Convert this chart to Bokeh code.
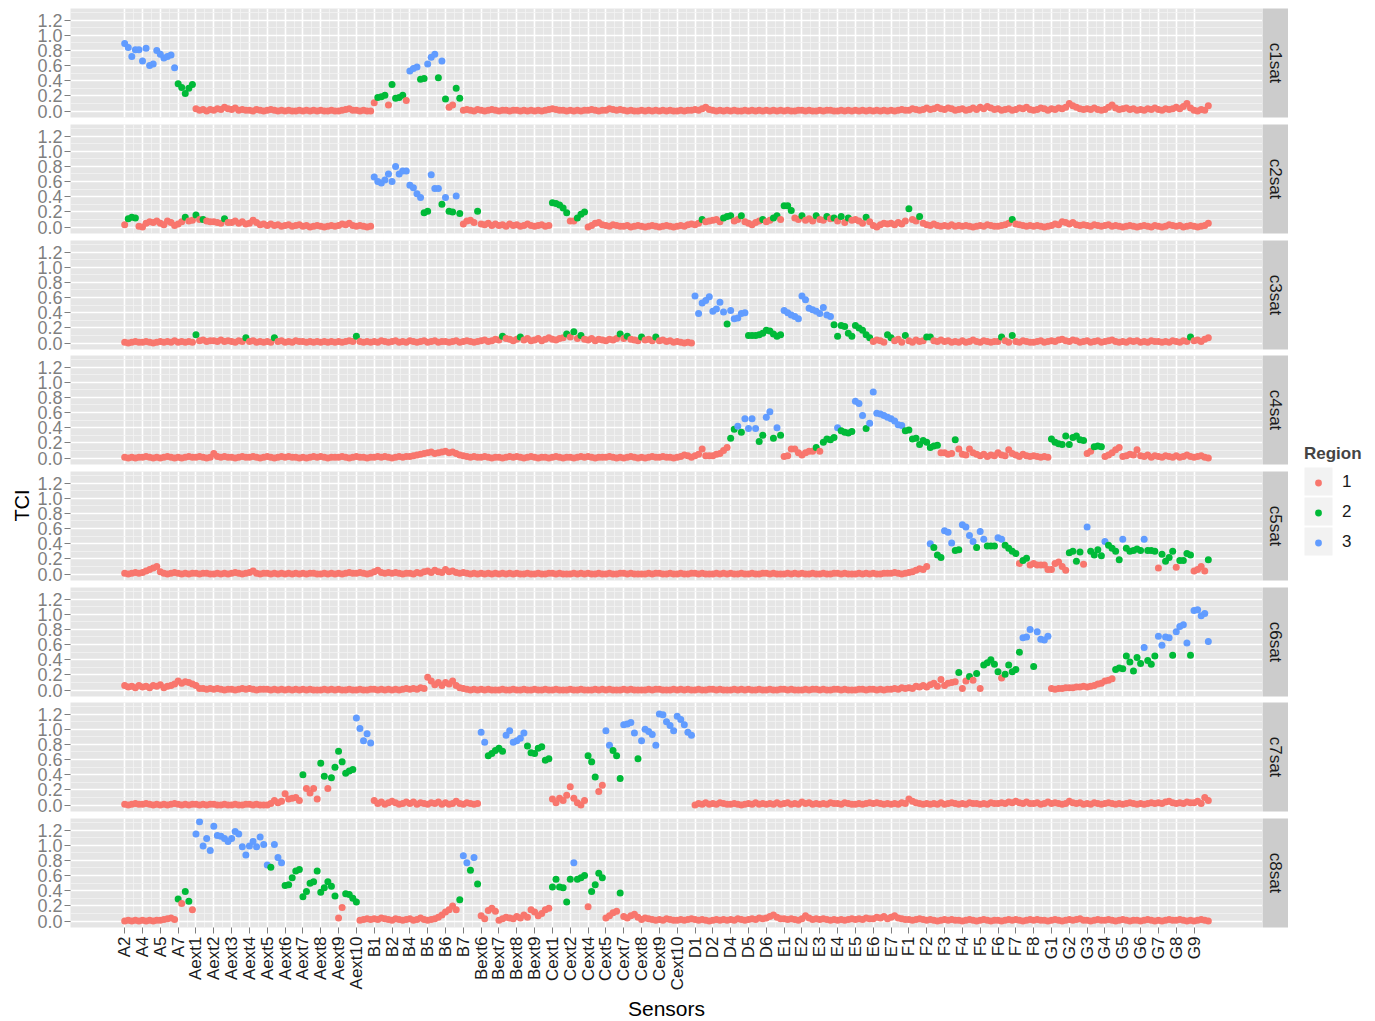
import math
from bokeh.plotting import figure
from bokeh.layouts import row, column
from bokeh.models import (ColumnDataSource, FixedTicker, Range1d, Label, Legend, LegendItem,
                          PrintfTickFormatter, CustomJSTickFormatter, BoxAnnotation)
from bokeh.transform import factor_cmap
from bokeh.embed import file_html
from bokeh.resources import INLINE

# ---------------------------------------------------------------- data
SENSORS = ["A2", "A4", "A5", "A7", "Aext1", "Aext2", "Aext3", "Aext4", "Aext5", "Aext6",
           "Aext7", "Aext8", "Aext9", "Aext10", "B1", "B2", "B4", "B5", "B6", "B7",
           "Bext6", "Bext7", "Bext8", "Bext9", "Cext1", "Cext2", "Cext4", "Cext5", "Cext7", "Cext8",
           "Cext9", "Cext10", "D1", "D2", "D4", "D5", "D6", "E1", "E2", "E3",
           "E4", "E5", "E6", "E7", "F1", "F2", "F3", "F4", "F5", "F6",
           "F7", "F8", "G1", "G2", "G3", "G4", "G5", "G6", "G7", "G8", "G9"]
READINGS_PER_SENSOR = 5
PANELS = ["c1sat", "c2sat", "c3sat", "c4sat", "c5sat", "c6sat", "c7sat", "c8sat"]
REGIONS = ["1", "2", "3"]
REGION_COLORS = ["#F8766D", "#00BA38", "#619CFF"]
Y_TICKS = [0.0, 0.2, 0.4, 0.6, 0.8, 1.0, 1.2]
Y_MINOR = [0.1, 0.3, 0.5, 0.7, 0.9, 1.1, 1.3]

# TCI values in hundredths, 5 readings per sensor, in sensor order
TCI_C1 = [
    89, 84, 72, 81, 81, 66, 83, 60, 62, 80, 75, 70, 72, 74, 57, 36, 31, 23, 30, 35, 3, 1, 2, 0, 2,
    1, 3, 2, 5, 3, 2, 4, 1, 2, 1, 1, 0, 2, 1, 0, 1, 2, 1, 0, 1, 0, 1, 0, 0, 1,
    0, 1, 0, 1, 0, 1, 0, 0, 1, 0, 0, 1, 2, 3, 1, 1, 0, 1, 0, 0, 11, 18, 19, 21, 8,
    35, 17, 18, 21, 14, 53, 56, 58, 42, 43, 62, 71, 75, 44, 66, 16, 5, 8, 30, 17, 1, 2, 1, 0, 2,
    1, 0, 1, 2, 1, 0, 1, 1, 0, 1, 1, 0, 1, 0, 1, 0, 1, 0, 1, 2, 3, 2, 1, 1, 0,
    1, 0, 1, 0, 1, 1, 2, 1, 0, 1, 1, 3, 2, 1, 2, 1, 0, 1, 0, 0, 1, 0, 1, 0, 1,
    0, 1, 0, 1, 0, 0, 1, 0, 1, 1, 2, 1, 3, 5, 2, 1, 0, 1, 0, 1, 0, 1, 0, 0, 1,
    0, 1, 0, 1, 0, 1, 0, 1, 0, 1, 0, 1, 0, 0, 1, 1, 0, 1, 0, 0, 1, 0, 1, 1, 0,
    0, 1, 0, 1, 0, 1, 0, 1, 0, 1, 0, 1, 0, 1, 0, 1, 0, 1, 2, 1, 1, 3, 2, 1, 2,
    4, 2, 3, 5, 3, 2, 4, 3, 1, 2, 3, 1, 2, 4, 2, 5, 3, 6, 4, 2, 3, 1, 2, 3, 1,
    2, 4, 3, 5, 2, 1, 2, 4, 3, 1, 3, 2, 4, 3, 5, 10, 7, 5, 3, 2, 3, 2, 4, 2, 1,
    2, 5, 8, 4, 2, 3, 4, 2, 3, 1, 2, 1, 3, 2, 4, 2, 1, 3, 2, 3, 5, 3, 6, 10, 4,
    1, 0, 2, 1, 7]
TCI_C2 = [
    3, 11, 13, 12, 1, 0, 5, 7, 6, 8, 5, 3, 8, 6, 2, 4, 7, 13, 8, 9, 16, 10, 10, 8, 7,
    7, 6, 5, 11, 6, 6, 8, 5, 7, 4, 5, 9, 6, 3, 4, 2, 4, 2, 3, 1, 2, 3, 1, 2, 3,
    1, 2, 0, 1, 2, 1, 0, 1, 2, 1, 2, 4, 3, 5, 2, 1, 2, 1, 0, 1, 66, 60, 58, 62, 70,
    60, 80, 70, 74, 74, 55, 52, 44, 39, 19, 21, 69, 51, 51, 30, 39, 21, 20, 41, 18, 4, 8, 9, 6, 21,
    4, 3, 5, 2, 4, 2, 3, 1, 4, 2, 3, 1, 2, 4, 2, 1, 2, 3, 1, 2, 32, 31, 29, 25, 19,
    8, 8, 12, 17, 20, 0, 2, 5, 6, 3, 2, 1, 3, 2, 1, 1, 2, 0, 1, 2, 1, 0, 1, 2, 1,
    0, 1, 2, 1, 0, 1, 2, 1, 3, 4, 3, 5, 10, 7, 8, 9, 10, 7, 12, 14, 15, 8, 10, 15, 7,
    5, 3, 6, 8, 10, 7, 9, 12, 15, 10, 28, 28, 22, 12, 10, 15, 9, 11, 8, 15, 10, 9, 14, 11, 12,
    8, 14, 6, 12, 9, 10, 8, 5, 13, 7, 2, 0, 3, 5, 4, 5, 3, 6, 4, 8, 24, 10, 8, 14, 5,
    3, 2, 4, 2, 1, 2, 1, 3, 1, 2, 1, 2, 1, 0, 1, 2, 1, 3, 2, 1, 1, 2, 3, 5, 10,
    4, 3, 2, 1, 2, 1, 2, 1, 0, 1, 2, 4, 3, 7, 6, 4, 6, 3, 2, 3, 2, 1, 3, 2, 1,
    2, 3, 1, 2, 1, 0, 1, 2, 1, 0, 1, 2, 1, 0, 2, 1, 0, 1, 3, 2, 1, 2, 0, 1, 2,
    1, 0, 1, 2, 5]
TCI_C3 = [
    1, 0, 1, 2, 1, 1, 2, 1, 0, 1, 2, 1, 2, 1, 3, 1, 2, 1, 2, 1, 11, 3, 4, 2, 3,
    3, 2, 4, 2, 3, 2, 1, 3, 2, 7, 2, 3, 1, 2, 1, 2, 1, 7, 2, 3, 1, 2, 1, 3, 2,
    2, 1, 2, 1, 2, 1, 2, 1, 2, 1, 2, 1, 2, 3, 2, 9, 2, 1, 2, 1, 2, 1, 3, 2, 1,
    2, 3, 1, 2, 1, 3, 2, 1, 2, 3, 1, 2, 3, 1, 2, 2, 1, 2, 3, 1, 2, 3, 2, 1, 2,
    3, 4, 2, 3, 5, 4, 9, 6, 5, 3, 5, 8, 4, 6, 3, 4, 6, 3, 5, 7, 5, 4, 6, 7, 12,
    8, 15, 6, 10, 5, 4, 6, 3, 5, 4, 3, 5, 4, 6, 12, 6, 9, 5, 4, 3, 8, 4, 5, 3, 8,
    3, 4, 2, 3, 1, 2, 1, 0, 1, 0, 62, 39, 53, 56, 61, 42, 45, 54, 41, 25, 43, 32, 33, 39, 40,
    10, 10, 10, 11, 13, 17, 16, 12, 9, 11, 43, 40, 37, 35, 32, 62, 57, 46, 44, 42, 39, 47, 37, 35, 24,
    9, 23, 22, 13, 9, 23, 20, 17, 11, 7, 2, 4, 3, 1, 11, 7, 3, 5, 1, 10, 3, 1, 4, 2, 3,
    8, 8, 3, 2, 4, 2, 3, 1, 2, 1, 3, 1, 2, 4, 2, 1, 3, 2, 1, 2, 2, 8, 3, 1, 10,
    2, 1, 3, 2, 1, 1, 2, 3, 1, 2, 3, 2, 4, 5, 3, 2, 4, 3, 1, 2, 3, 1, 2, 3, 1,
    2, 3, 4, 2, 1, 2, 1, 3, 2, 3, 1, 2, 1, 3, 2, 2, 1, 2, 1, 3, 2, 1, 3, 2, 8,
    3, 4, 2, 5, 7]
TCI_C4 = [
    1, 0, 1, 0, 1, 1, 2, 1, 0, 1, 0, 1, 2, 1, 0, 1, 0, 1, 2, 1, 1, 2, 1, 0, 1,
    6, 2, 1, 2, 1, 1, 0, 1, 2, 1, 1, 2, 1, 0, 1, 2, 1, 0, 1, 2, 1, 2, 1, 1, 0,
    1, 0, 1, 2, 1, 2, 1, 0, 1, 1, 1, 2, 1, 0, 1, 2, 1, 1, 0, 1, 1, 2, 1, 2, 1,
    0, 1, 2, 1, 2, 2, 3, 4, 5, 6, 7, 8, 6, 7, 8, 9, 7, 8, 6, 4, 3, 2, 1, 2, 1,
    1, 2, 1, 0, 1, 1, 0, 1, 2, 1, 2, 1, 0, 1, 2, 1, 0, 1, 1, 0, 1, 2, 1, 0, 1,
    1, 0, 1, 2, 1, 2, 1, 0, 1, 1, 1, 2, 1, 0, 1, 0, 1, 2, 1, 0, 1, 0, 1, 2, 1,
    1, 2, 1, 1, 0, 1, 2, 4, 3, 1, 3, 5, 12, 3, 3, 3, 5, 6, 10, 14, 26, 38, 42, 34, 52,
    39, 52, 39, 22, 30, 54, 61, 26, 40, 30, 2, 3, 12, 12, 7, 4, 7, 9, 9, 14, 9, 21, 25, 24, 27,
    40, 36, 34, 33, 35, 75, 72, 56, 39, 46, 87, 59, 58, 56, 54, 52, 49, 44, 43, 36, 37, 25, 26, 18, 23,
    21, 14, 16, 17, 7, 7, 5, 6, 24, 12, 5, 4, 12, 7, 5, 3, 5, 2, 4, 3, 7, 4, 3, 11, 6,
    4, 2, 5, 3, 2, 3, 2, 1, 2, 1, 25, 21, 19, 18, 29, 18, 27, 29, 24, 23, 6, 9, 15, 16, 15,
    2, 4, 7, 11, 14, 2, 3, 5, 4, 11, 3, 2, 4, 1, 3, 2, 1, 3, 2, 1, 3, 1, 2, 4, 2,
    1, 2, 3, 1, 0]
TCI_C5 = [
    1, 0, 1, 2, 1, 2, 4, 6, 8, 10, 3, 1, 0, 1, 2, 1, 0, 1, 0, 1, 1, 0, 1, 1, 0,
    0, 1, 0, 1, 0, 1, 2, 1, 0, 1, 2, 4, 1, 0, 1, 1, 0, 1, 0, 1, 0, 1, 0, 1, 0,
    1, 0, 1, 1, 0, 0, 1, 0, 1, 0, 1, 0, 1, 2, 1, 1, 2, 1, 0, 1, 3, 5, 2, 1, 2,
    1, 2, 1, 0, 1, 1, 0, 2, 1, 3, 4, 2, 5, 3, 2, 6, 3, 4, 2, 1, 2, 1, 0, 1, 0,
    1, 0, 1, 0, 1, 0, 1, 0, 1, 0, 1, 0, 0, 1, 0, 0, 1, 0, 0, 1, 1, 0, 1, 0, 0,
    0, 1, 0, 1, 0, 1, 0, 0, 1, 0, 0, 1, 0, 0, 1, 1, 0, 1, 0, 0, 0, 0, 1, 0, 1,
    1, 0, 0, 1, 0, 0, 1, 0, 0, 1, 1, 0, 1, 0, 0, 0, 1, 0, 1, 0, 1, 0, 0, 1, 0,
    0, 1, 0, 0, 1, 1, 0, 1, 0, 0, 0, 1, 0, 1, 0, 1, 0, 0, 1, 0, 0, 1, 0, 0, 1,
    1, 0, 1, 0, 0, 0, 1, 0, 1, 0, 1, 0, 0, 1, 1, 1, 2, 1, 0, 1, 2, 3, 5, 7, 6,
    10, 40, 35, 25, 22, 57, 55, 41, 31, 32, 65, 62, 51, 43, 35, 56, 46, 37, 37, 37, 48, 46, 38, 34, 30,
    27, 14, 18, 21, 12, 14, 12, 12, 12, 6, 6, 14, 16, 10, 5, 28, 30, 17, 29, 13, 62, 30, 25, 32, 24,
    43, 38, 34, 30, 19, 46, 34, 30, 31, 33, 31, 46, 31, 31, 30, 8, 26, 17, 22, 30, 9, 18, 18, 27, 25,
    4, 6, 10, 4, 19]
TCI_C6 = [
    6, 4, 5, 3, 6, 4, 5, 3, 6, 5, 7, 3, 5, 6, 8, 12, 9, 11, 10, 8, 6, 2, 2, 1, 2,
    1, 2, 1, 0, 1, 1, 0, 1, 2, 1, 2, 1, 0, 1, 1, 1, 0, 1, 0, 1, 0, 1, 0, 1, 0,
    1, 0, 1, 0, 0, 0, 1, 0, 1, 0, 1, 0, 0, 1, 0, 0, 1, 0, 0, 1, 1, 0, 1, 0, 1,
    0, 1, 0, 1, 2, 1, 2, 1, 3, 2, 17, 12, 7, 10, 6, 10, 8, 12, 6, 3, 2, 1, 0, 1, 0,
    1, 0, 1, 0, 0, 0, 1, 0, 0, 1, 0, 0, 1, 0, 0, 1, 0, 0, 1, 0, 0, 1, 0, 0, 0,
    1, 0, 0, 1, 0, 0, 0, 1, 0, 1, 0, 1, 0, 0, 0, 1, 0, 1, 0, 0, 0, 0, 1, 0, 1,
    1, 0, 0, 0, 1, 0, 1, 0, 1, 0, 0, 1, 0, 0, 1, 1, 0, 1, 0, 0, 0, 1, 0, 1, 0,
    1, 0, 0, 1, 0, 0, 1, 0, 0, 1, 1, 0, 1, 0, 0, 0, 1, 0, 1, 1, 0, 1, 0, 0, 1,
    1, 0, 1, 0, 0, 0, 1, 1, 0, 1, 1, 0, 1, 0, 1, 1, 2, 1, 3, 2, 3, 2, 5, 4, 6,
    4, 7, 9, 5, 14, 6, 9, 10, 11, 23, 2, 12, 18, 13, 22, 2, 33, 36, 40, 34, 24, 16, 21, 33, 24,
    27, 50, 69, 70, 80, 31, 77, 67, 66, 71, 2, 1, 2, 2, 3, 3, 3, 4, 4, 5, 4, 5, 6, 8, 9,
    12, 13, 15, 27, 29, 28, 45, 37, 25, 43, 35, 56, 39, 34, 45, 71, 59, 70, 69, 46, 77, 84, 86, 62, 46,
    105, 106, 98, 101, 64]
TCI_C7 = [
    1, 0, 1, 2, 1, 1, 2, 1, 0, 1, 0, 1, 0, 1, 2, 1, 0, 1, 0, 1, 1, 0, 1, 0, 1,
    1, 0, 0, 1, 0, 0, 1, 0, 0, 1, 1, 0, 1, 0, 0, 0, 2, 6, 3, 5, 15, 8, 9, 10, 6,
    40, 22, 16, 22, 8, 55, 38, 22, 36, 50, 71, 57, 42, 45, 47, 115, 101, 85, 94, 82, 6, 2, 4, 1, 3,
    5, 3, 1, 2, 4, 2, 4, 1, 3, 2, 1, 3, 2, 4, 1, 3, 1, 2, 5, 2, 1, 3, 2, 1, 2,
    96, 83, 65, 68, 72, 75, 71, 92, 98, 83, 85, 88, 95, 78, 69, 68, 75, 77, 59, 61, 8, 3, 9, 6, 13,
    24, 9, 3, 0, 6, 65, 57, 37, 18, 26, 98, 79, 72, 65, 35, 106, 107, 109, 95, 61, 85, 100, 97, 93, 79,
    120, 119, 110, 105, 98, 117, 113, 106, 96, 92, 0, 2, 1, 3, 1, 2, 1, 3, 2, 1, 1, 2, 1, 0, 1,
    2, 1, 3, 1, 2, 1, 2, 1, 3, 1, 2, 3, 1, 2, 1, 4, 2, 3, 1, 2, 1, 2, 1, 3, 2,
    2, 1, 3, 2, 1, 1, 2, 1, 2, 3, 2, 3, 2, 1, 2, 1, 2, 1, 3, 2, 8, 5, 3, 2, 1,
    2, 1, 2, 1, 3, 1, 2, 3, 2, 1, 2, 1, 3, 2, 2, 1, 2, 1, 3, 2, 2, 3, 2, 4, 3,
    5, 3, 2, 4, 2, 2, 3, 1, 2, 4, 2, 3, 2, 1, 2, 5, 3, 2, 3, 1, 2, 1, 3, 2, 1,
    2, 3, 2, 1, 2, 1, 2, 3, 2, 1, 2, 1, 2, 3, 2, 3, 2, 4, 5, 3, 2, 3, 2, 4, 3,
    3, 5, 2, 10, 6]
TCI_C8 = [
    0, 1, 0, 1, 0, 1, 0, 1, 0, 1, 1, 2, 3, 4, 2, 29, 23, 39, 26, 15, 115, 131, 99, 109, 93,
    125, 113, 112, 109, 105, 109, 118, 115, 98, 87, 99, 105, 98, 111, 101, 74, 71, 101, 84, 77, 47, 48, 57, 66, 68,
    32, 39, 50, 52, 66, 38, 44, 52, 46, 33, 4, 18, 36, 35, 30, 25, 1, 2, 3, 2, 3, 2, 4, 3, 2,
    1, 3, 2, 1, 2, 3, 1, 2, 4, 2, 1, 2, 3, 5, 8, 12, 15, 20, 15, 28, 86, 77, 67, 84, 49,
    7, 3, 14, 17, 13, 1, 3, 5, 4, 3, 6, 4, 8, 5, 15, 12, 7, 10, 15, 17, 45, 55, 45, 44, 25,
    55, 77, 55, 57, 60, 19, 39, 48, 63, 57, 4, 7, 11, 13, 37, 6, 4, 7, 9, 5, 2, 4, 3, 2, 1,
    2, 1, 3, 2, 1, 1, 2, 1, 2, 3, 2, 1, 2, 1, 0, 1, 2, 1, 2, 1, 2, 1, 3, 2, 1,
    2, 3, 2, 4, 3, 4, 6, 8, 5, 3, 3, 2, 3, 2, 1, 3, 7, 4, 2, 3, 2, 3, 2, 1, 2,
    1, 2, 1, 2, 3, 2, 3, 2, 4, 3, 3, 5, 4, 6, 3, 5, 7, 4, 3, 2, 2, 1, 2, 3, 2,
    1, 2, 1, 0, 1, 2, 1, 2, 1, 1, 0, 1, 2, 1, 0, 1, 2, 1, 0, 1, 1, 0, 1, 2, 1,
    2, 1, 0, 1, 2, 1, 2, 1, 1, 0, 1, 2, 1, 0, 1, 2, 1, 2, 3, 1, 1, 0, 1, 2, 1,
    1, 2, 1, 0, 1, 2, 1, 0, 1, 1, 0, 1, 2, 1, 0, 1, 0, 1, 2, 1, 1, 2, 1, 0, 1,
    0, 1, 2, 1, 0]

# region of each reading, one group of 5 per sensor
REGION_C1 = """
33333 33333 33333 22222 11111 11111 11111 11111 11111 11111
11111 11111 11111 11111 12221 22221 33322 33323 21122 11111
11111 11111 11111 11111 11111 11111 11111 11111 11111 11111
11111 11111 11111 11111 11111 11111 11111 11111 11111 11111
11111 11111 11111 11111 11111 11111 11111 11111 11111 11111
11111 11111 11111 11111 11111 11111 11111 11111 11111 11111
11111"""
REGION_C2 = """
12221 11111 11111 11211 21211 11121 11111 11111 11111 11111
11111 11111 11111 11111 33333 33333 33332 23332 32232 11112
11111 11111 11111 11111 22222 11222 11111 11111 11111 11111
11111 11111 11211 11122 21121 11112 11221 22211 21112 11212
12121 11121 11111 11111 21121 11111 11111 11111 11111 11112
11111 11111 11111 11111 11111 11111 11111 11111 11111 11111
11111"""
REGION_C3 = """
11111 11111 11111 11111 21111 11111 11112 11111 11211 11111
11111 11111 11111 21111 11111 11111 11111 11111 11111 11111
11111 12111 12111 11111 11112 12121 11111 11112 12111 21112
11111 11111 33333 33332 33333 22222 22222 33333 33333 33332
22222 22222 11112 21112 11111 22111 11111 11111 11111 12112
11111 11111 11111 11111 11111 11111 11111 11111 11111 11112
11111"""
REGION_C4 = """
11111 11111 11111 11111 11111 11111 11111 11111 11111 11111
11111 11111 11111 11111 11111 11111 11111 11111 11111 11111
11111 11111 11111 11111 11111 11111 11111 11111 11111 11111
11111 11111 11111 11111 22323 33322 33232 11111 11112 12222
32222 33323 33333 33332 22222 22221 11121 11111 11111 11111
11111 11111 22222 22222 11222 11111 11111 11111 11111 11111
11111"""
REGION_C5 = """
11111 11111 11111 11111 11111 11111 11111 11111 11111 11111
11111 11111 11111 11111 11111 11111 11111 11111 11111 11111
11111 11111 11111 11111 11111 11111 11111 11111 11111 11111
11111 11111 11111 11111 11111 11111 11111 11111 11111 11111
11111 11111 11111 11111 11111 13222 33322 33332 33222 33222
21221 11111 11111 22221 32222 32222 32222 23222 12222 12222
11112"""
REGION_C6 = """
11111 11111 11111 11111 11111 11111 11111 11111 11111 11111
11111 11111 11111 11111 11111 11111 11111 11111 11111 11111
11111 11111 11111 11111 11111 11111 11111 11111 11111 11111
11111 11111 11111 11111 11111 11111 11111 11111 11111 11111
11111 11111 11111 11111 11111 11111 11112 11212 12222 21222
22333 23333 11111 11111 11111 11122 22222 23222 33332 33332
33333"""
REGION_C7 = """
11111 11111 11111 11111 11111 11111 11111 11111 11111 11111
21111 22122 22222 33333 11111 11111 11111 11111 11111 11111
33222 22333 33322 22222 11111 11111 22211 33222 33332 33333
33333 33333 11111 11111 11111 11111 11111 11111 11111 11111
11111 11111 11111 11111 11111 11111 11111 11111 11111 11111
11111 11111 11111 11111 11111 11111 11111 11111 11111 11111
11111"""
REGION_C8 = """
11111 11111 11111 21221 33333 33333 33333 33333 32333 22222
22222 22222 11222 21111 11111 11111 11111 11111 11112 33232
11111 11111 11111 11111 22222 23222 12222 11112 11111 11111
11111 11111 11111 11111 11111 11111 11111 11111 11111 11111
11111 11111 11111 11111 11111 11111 11111 11111 11111 11111
11111 11111 11111 11111 11111 11111 11111 11111 11111 11111
11111"""

PANEL_TCI = [TCI_C1, TCI_C2, TCI_C3, TCI_C4, TCI_C5, TCI_C6, TCI_C7, TCI_C8]
PANEL_REGION = [REGION_C1, REGION_C2, REGION_C3, REGION_C4,
                REGION_C5, REGION_C6, REGION_C7, REGION_C8]

# ---------------------------------------------------------------- layout constants
FONT = "Liberation Sans"
FRAME_W = 1192
FRAME_H = 109
TOP = 8
GAPS = [7, 7, 6, 7, 7, 6, 7]
BOTTOM_AXIS = 93
LEFT = 38
TCI_W = 32
STRIP_W = 26
LEGEND_W = 86
TOTAL_H = TOP + 8 * FRAME_H + sum(GAPS) + BOTTOM_AXIS

N = len(SENSORS) * READINGS_PER_SENSOR
span = N - 1
x_range = Range1d(-0.05 * span, span * 1.05)
y_range = Range1d(-0.085, 1.353)

major_x = [i * READINGS_PER_SENSOR for i in range(len(SENSORS))]
minor_x = [i * READINGS_PER_SENSOR + READINGS_PER_SENSOR / 2 for i in range(len(SENSORS) - 1)]

rows = []
for k, name in enumerate(PANELS):
    vals = PANEL_TCI[k]
    regs = [c for c in PANEL_REGION[k] if c in "123"]
    assert len(vals) == N, (name, len(vals))
    assert len(regs) == N, (name, len(regs))
    top = TOP if k == 0 else 0
    bottom = GAPS[k] if k < 7 else BOTTOM_AXIS

    p = figure(frame_width=FRAME_W, frame_height=FRAME_H, x_range=x_range, y_range=y_range,
               toolbar_location=None, output_backend="svg", title=None,
               min_border_left=LEFT, min_border_right=0, min_border_top=top,
               min_border_bottom=bottom)
    p.background_fill_color = "#E5E5E5"
    p.border_fill_color = "white"
    p.outline_line_color = None

    xt = FixedTicker(ticks=major_x, minor_ticks=minor_x)
    yt = FixedTicker(ticks=Y_TICKS, minor_ticks=Y_MINOR)
    p.xaxis.ticker = xt
    p.yaxis.ticker = yt
    p.xgrid.ticker = xt
    p.ygrid.ticker = yt
    p.grid.grid_line_color = "white"
    p.grid.grid_line_width = 1.6
    p.grid.minor_grid_line_color = "#F2F2F2"
    p.grid.minor_grid_line_width = 0.8

    p.yaxis.formatter = PrintfTickFormatter(format="%.1f")
    p.yaxis.axis_line_color = None
    p.yaxis.major_tick_line_color = "#7F7F7F"
    p.yaxis.major_tick_out = 6
    p.yaxis.major_tick_in = 0
    p.yaxis.minor_tick_line_color = None
    p.yaxis.major_label_text_font = FONT
    p.yaxis.major_label_text_font_size = "18px"
    p.yaxis.major_label_text_color = "#7F7F7F"
    p.yaxis.major_label_standoff = 2

    if k < 7:
        p.xaxis.visible = False
    else:
        p.xaxis.formatter = CustomJSTickFormatter(
            args=dict(labels=SENSORS, step=READINGS_PER_SENSOR),
            code="const i = Math.round(tick / step); return (i >= 0 && i < labels.length) ? labels[i] : '';")
        p.xaxis.major_label_orientation = math.pi / 2
        p.xaxis.axis_line_color = None
        p.xaxis.major_tick_line_color = "#7F7F7F"
        p.xaxis.major_tick_out = 6
        p.xaxis.major_tick_in = 0
        p.xaxis.minor_tick_line_color = None
        p.xaxis.major_label_text_font = FONT
        p.xaxis.major_label_text_font_size = "17px"
        p.xaxis.major_label_text_color = "#1A1A1A"
        p.xaxis.major_label_standoff = 3
        p.xaxis.axis_label = "Sensors"
        p.xaxis.axis_label_text_font = FONT
        p.xaxis.axis_label_text_font_size = "21px"
        p.xaxis.axis_label_text_font_style = "normal"
        p.xaxis.axis_label_text_color = "black"
        p.xaxis.axis_label_standoff = 4

    src = ColumnDataSource(dict(x=list(range(N)), tci=[v / 100 for v in vals], region=regs))
    p.scatter("x", "tci", source=src, size=7, line_color=None,
              fill_color=factor_cmap("region", REGION_COLORS, REGIONS))

    s = figure(width=STRIP_W, frame_height=FRAME_H, x_range=Range1d(0, 1), y_range=Range1d(0, 1),
               toolbar_location=None, output_backend="svg", title=None,
               x_axis_location=None, y_axis_location=None,
               min_border_left=0, min_border_right=0, min_border_top=top, min_border_bottom=bottom)
    s.background_fill_color = "#CCCCCC"
    s.border_fill_color = "white"
    s.outline_line_color = None
    s.grid.visible = False
    s.add_layout(Label(x=0.5, y=0.5, text=name, angle=-math.pi / 2, text_align="center",
                       text_baseline="middle", text_font=FONT, text_font_size="17px",
                       text_color="#1A1A1A"))
    rows.append(row(p, s))

panels = column(*rows)

# y title
tf = figure(width=TCI_W, height=TOTAL_H, x_range=Range1d(0, 1), y_range=Range1d(0, 1),
            toolbar_location=None, output_backend="svg", title=None, min_border=0,
            x_axis_location=None, y_axis_location=None)
tf.outline_line_color = None
tf.grid.visible = False
tf.add_layout(Label(x=21, y=TOTAL_H - 505, x_units="screen", y_units="screen", text="TCI",
                    angle=math.pi / 2, text_align="center", text_baseline="middle",
                    text_font=FONT, text_font_size="20px", text_color="black"))

# legend (its own small figure whose ranges are in pixels)
lf = figure(width=LEGEND_W, height=TOTAL_H, x_range=Range1d(0, LEGEND_W), y_range=Range1d(0, TOTAL_H),
            toolbar_location=None, output_backend="svg", title=None, min_border=0,
            x_axis_location=None, y_axis_location=None)
lf.outline_line_color = None
lf.grid.visible = False
KEY_CENTERS = [481, 511, 541]   # vertical centre of each legend key, px from the top
for yc in KEY_CENTERS:
    lf.add_layout(BoxAnnotation(left=16, right=44, top=TOTAL_H - yc + 14, bottom=TOTAL_H - yc - 14,
                                fill_color="#F2F2F2", fill_alpha=1.0, line_color=None,
                                level="underlay"))
items = []
for reg, col in zip(REGIONS, REGION_COLORS):
    r = lf.scatter(x=[float("nan")], y=[float("nan")], size=7, fill_color=col, line_color=None)
    items.append(LegendItem(label=reg, renderers=[r]))
leg = Legend(items=items, location=(16, TOTAL_H - 552), title="Region",
             title_text_font=FONT, title_text_font_size="17px", title_text_font_style="bold",
             label_text_font=FONT, label_text_font_size="17px", label_text_color="#1A1A1A",
             glyph_width=28, glyph_height=17, label_standoff=10, spacing=10,
             padding=0, margin=0, border_line_color=None, background_fill_alpha=0,
             title_standoff=8)
lf.add_layout(leg)

layout = row(tf, panels, lf)
open("out.html", "w").write(file_html(layout, INLINE))
